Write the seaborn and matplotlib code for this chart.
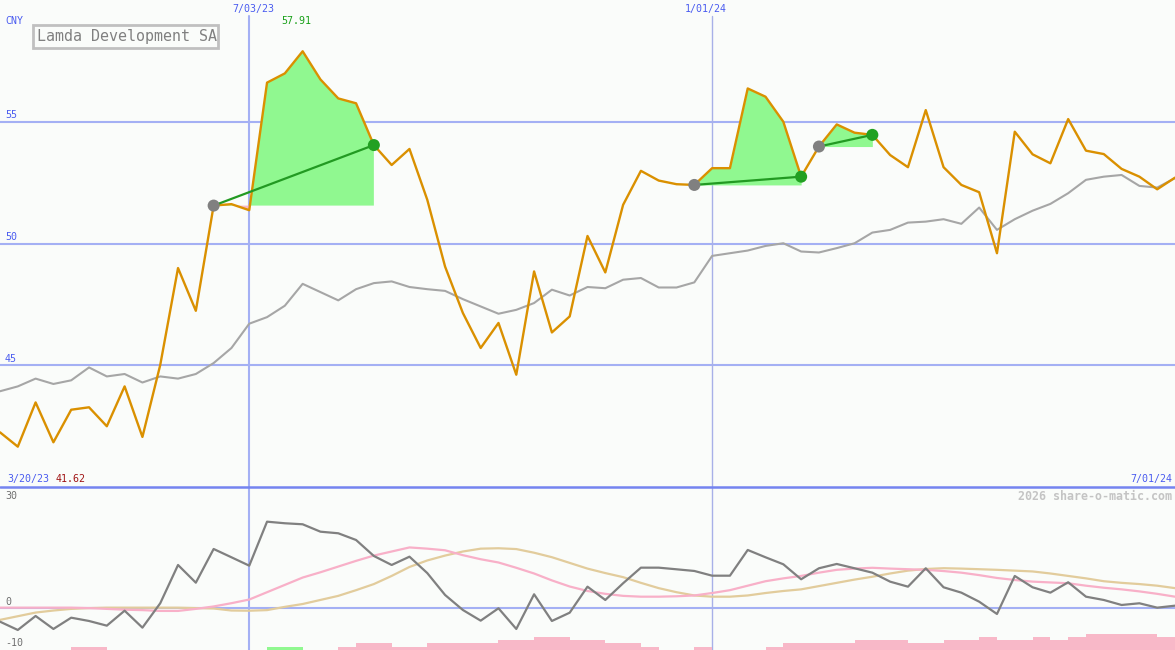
import numpy as np
import pandas as pd
import matplotlib
matplotlib.use("Agg")
import matplotlib.pyplot as plt
from matplotlib.patches import Rectangle
import seaborn as sns

# ---------------- data ----------------
dates = pd.date_range("2023-03-27", periods=67, freq="7D")

price = [42.23, 41.64, 43.46, 41.82, 43.16, 43.26, 42.48, 44.12, 42.04, 45.00,
         48.99, 47.23, 51.56, 51.62, 51.37, 56.62, 57.00, 57.91, 56.75, 55.97,
         55.77, 54.05, 53.23, 53.89, 51.80, 49.05, 47.14, 45.70, 46.73, 44.60,
         48.85, 46.34, 47.00, 50.31, 48.81, 51.59, 52.99, 52.59, 52.44, 52.41,
         53.10, 53.10, 56.38, 56.04, 55.01, 52.75, 53.99, 54.90, 54.56, 54.47,
         53.64, 53.14, 55.49, 53.14, 52.41, 52.11, 49.60, 54.60, 53.67, 53.30,
         55.12, 53.82, 53.68, 53.07, 52.75, 52.23, 52.71]

moving_avg = [43.92, 44.12, 44.44, 44.22, 44.37, 44.90, 44.53, 44.63, 44.28, 44.53,
              44.44, 44.63, 45.08, 45.70, 46.70, 46.97, 47.44, 48.34, 48.00, 47.66,
              48.12, 48.37, 48.44, 48.21, 48.12, 48.05, 47.71, 47.41, 47.11, 47.27,
              47.55, 48.10, 47.86, 48.21, 48.16, 48.51, 48.58, 48.19, 48.19, 48.40,
              49.49, 49.60, 49.71, 49.90, 50.01, 49.67, 49.63, 49.81, 50.01, 50.45,
              50.56, 50.86, 50.90, 51.00, 50.81, 51.48, 50.56, 51.00, 51.35, 51.63,
              52.07, 52.62, 52.75, 52.82, 52.37, 52.30, 52.69]

momentum = [-3.44, -5.48, -2.04, -5.23, -2.46, -3.27, -4.42, -0.74, -4.91, 1.08,
            10.49, 6.14, 14.42, 12.38, 10.32, 21.13, 20.74, 20.49, 18.67, 18.28,
            16.63, 12.70, 10.49, 12.53, 8.50, 3.12, -0.57, -3.19, -0.15, -5.23,
            3.29, -3.27, -1.23, 5.16, 1.89, 6.00, 9.83, 9.83, 9.43, 9.02,
            7.86, 7.86, 14.18, 12.38, 10.66, 6.98, 9.68, 10.74, 9.68, 8.60,
            6.39, 5.16, 9.68, 5.01, 3.69, 1.47, -1.55, 7.79, 5.01, 3.69,
            6.24, 2.70, 1.89, 0.66, 1.08, 0.00, 0.49]

signal_fast = [0.0, 0.0, 0.0, 0.0, 0.0, -0.1, -0.3, -0.5, -0.6, -0.8,
               -0.8, -0.3, 0.3, 1.1, 2.0, 3.8, 5.6, 7.4, 8.7, 10.1,
               11.5, 12.8, 13.8, 14.8, 14.5, 14.1, 12.9, 11.9, 11.1, 9.8,
               8.4, 6.7, 5.2, 4.1, 3.4, 2.9, 2.7, 2.7, 2.8, 3.0,
               3.6, 4.3, 5.4, 6.5, 7.2, 7.8, 8.6, 9.3, 9.6, 9.8,
               9.6, 9.45, 9.3, 9.0, 8.6, 8.0, 7.3, 6.8, 6.4, 6.2,
               6.0, 5.4, 4.9, 4.5, 4.0, 3.4, 2.7]

signal_slow = [-3.0, -2.1, -1.2, -0.7, -0.3, -0.1, 0.0, 0.0, 0.0, 0.0,
               0.0, -0.1, -0.2, -0.7, -0.75, -0.6, 0.2, 0.9, 1.9, 2.9,
               4.3, 5.8, 7.8, 10.0, 11.6, 12.8, 13.8, 14.5, 14.6, 14.4,
               13.5, 12.4, 11.0, 9.6, 8.5, 7.5, 6.1, 4.8, 3.8, 3.0,
               2.7, 2.7, 3.0, 3.6, 4.1, 4.5, 5.3, 6.1, 6.9, 7.6,
               8.4, 9.1, 9.5, 9.7, 9.6, 9.45, 9.3, 9.1, 8.9, 8.4,
               7.8, 7.2, 6.5, 6.1, 5.8, 5.4, 4.8]

# weekly histogram (sign: + green, - pink), one per week interval
hist_vals = [0, 0, 0, 0, -0.8, -0.8, 0, 0, 0, 0,
             0, 0, 0, 0, 0, 0.8, 0.8, 0, 0, -0.8,
             -1.6, -1.6, -0.8, -0.8, -1.6, -1.6, -1.6, -1.6, -2.4, -2.4,
             -3.2, -3.2, -2.4, -2.4, -1.6, -1.6, -0.8, 0, 0, -0.8,
             0, 0, 0, -0.8, -1.6, -1.6, -1.6, -1.6, -2.4, -2.4,
             -2.4, -1.6, -1.6, -2.4, -2.4, -3.2, -2.4, -2.4, -3.2, -2.4,
             -3.2, -4.0, -4.0, -4.0, -4.0, -3.2]

trades = [(12, 21), (39, 45), (46, 49)]   # (buy index, sell index)

price_grid = [45, 50, 55]
price_grid_labels = ["45", "50", "55"]
osc_labels = ["30", "0", "-10"]
event_dates = ["2023-07-03", "2024-01-01"]
event_labels = ["7/03/23", "1/01/24"]
title = "Lamda Development SA"
peak_label = "57.91"
start_label, start_value = "3/20/23", "41.62"
end_label = "7/01/24"
credit = "2026 share-o-matic.com"
currency = "CNY"

# ---------------- style ----------------
sns.set_style("white")
plt.rcParams["font.family"] = ["DejaVu Sans Mono", "DejaVu Sans"]

BG = "#fafcfa"
GRID = "#a4b0f4"
BLUE_TXT = "#4a5cf0"
ORANGE = "#da9000"
MA_GRAY = "#a6a6a6"
GREEN_FILL = "#90f890"
PINK_FILL = "#f8b8c8"

W, H = 1175, 650
fig = plt.figure(figsize=(W / 100, H / 100), dpi=100, facecolor=BG)
split = 487
ax = fig.add_axes([0, (H - split) / H, 1, split / H])
ax2 = fig.add_axes([0, 0, 1, (H - split) / H])

df = pd.DataFrame({"date": dates, "price": price, "ma": moving_avg,
                   "mom": momentum, "fast": signal_fast, "slow": signal_slow})

for a in (ax, ax2):
    a.set_facecolor(BG)
    a.set_xlim(dates[0], dates[-1])
    for s in a.spines.values():
        s.set_visible(False)

ax.set_ylim(39.98, 60.02)
ax2.set_ylim(-10.4, 29.65)

# grid / event lines
for g in price_grid:
    ax.axhline(g, color=GRID, lw=1.5, zorder=0)
ax2.axhline(0, color=GRID, lw=1.5, zorder=0)
ev = pd.to_datetime(event_dates)
ax.axvline(ev[0], ymax=1 - 16 / split, color=GRID, lw=1.5, zorder=0)
ax.axvline(ev[1], ymax=1 - 16 / split, color="#a8b0e8", lw=1.0, zorder=0)
ax2.axvline(ev[0], color=GRID, lw=1.5, zorder=0)
ax2.axvline(ev[1], color="#a8b0e8", lw=1.0, zorder=0)

# trade fills
p = np.array(price)
for b, s in trades:
    xs = dates[b:s + 1]
    ys = p[b:s + 1]
    lvl = p[b]
    ax.fill_between(xs, ys, lvl, where=ys >= lvl, interpolate=True,
                    color=GREEN_FILL, lw=0, zorder=1)
    ax.fill_between(xs, ys, lvl, where=ys <= lvl, interpolate=True,
                    color=PINK_FILL, lw=0, zorder=1)

# lines
sns.lineplot(data=df, x="date", y="ma", ax=ax, color=MA_GRAY, lw=1.5, zorder=2)
sns.lineplot(data=df, x="date", y="price", ax=ax, color=ORANGE, lw=1.7, zorder=3)

for b, s in trades:
    tdf = pd.DataFrame({"date": [dates[b], dates[s]], "v": [price[b], price[s]]})
    sns.lineplot(data=tdf, x="date", y="v", ax=ax, color="#229a22", lw=1.6, zorder=4)
    sns.scatterplot(x=[dates[b]], y=[price[b]], ax=ax, color="#808080", s=75,
                    edgecolor="none", zorder=5)
    sns.scatterplot(x=[dates[s]], y=[price[s]], ax=ax, color="#22a022", s=75,
                    edgecolor="none", zorder=5)

# lower panel
hv = np.array(hist_vals)
cols = [GREEN_FILL if v > 0 else PINK_FILL for v in hv]
ax2.bar(dates[:-1], np.abs(hv), width=7, align="edge", bottom=-10.4,
        color=cols, lw=0, zorder=1)
sns.lineplot(data=df, x="date", y="slow", ax=ax2, color="#e2cc9c", lw=1.6, zorder=2)
sns.lineplot(data=df, x="date", y="fast", ax=ax2, color="#f8b0c8", lw=1.6, zorder=3)
sns.lineplot(data=df, x="date", y="mom", ax=ax2, color="#808080", lw=1.6, zorder=4)

for a in (ax, ax2):
    a.set_xlabel("")
    a.set_ylabel("")
    a.set_xticks([])
    a.set_yticks([])

# divider line
fig.add_artist(plt.Line2D([0, 1], [(H - split) / H] * 2, color="#7484f0", lw=1.8,
                          transform=fig.transFigure))

# ---------------- texts ----------------
def ftext(x, y, s, **kw):
    fig.text(x / W, 1 - y / H, s, ha=kw.pop("ha", "center"), va="center", **kw)

small = 7.2
ftext(5, 21, currency, ha="left", color=BLUE_TXT, fontsize=small)
for lbl, yv in zip(price_grid_labels, [358.5, 237, 115.5]):
    ftext(5, yv, lbl, ha="left", color=BLUE_TXT, fontsize=small)
ftext(253, 8.7, event_labels[0], color=BLUE_TXT, fontsize=small)
ftext(705.5, 8.7, event_labels[1], color=BLUE_TXT, fontsize=small)
ftext(296, 21, peak_label, color="#18a018", fontsize=small)
ftext(7, 479, start_label, ha="left", color=BLUE_TXT, fontsize=small)
ftext(55.5, 479, start_value, ha="left", color="#a01414", fontsize=small)
ftext(1172, 479, end_label, ha="right", color=BLUE_TXT, fontsize=small)
ftext(1172, 496, credit, ha="right", color="#c4c4c4", fontsize=8.4,
      fontweight="bold")
ftext(5, 496, osc_labels[0], ha="left", color="#707070", fontsize=small)
ftext(5, 601.7, osc_labels[1], ha="left", color="#707070", fontsize=small)
ftext(5, 642.5, osc_labels[2], ha="left", color="#707070", fontsize=small)

fig.add_artist(Rectangle((33 / W, 1 - 48 / H), 185 / W, 23 / H,
                         transform=fig.transFigure, fill=False,
                         ec="#c0c0c0", lw=2))
ftext(127, 36.5, title, color="#808080", fontsize=10.8)

fig.savefig("out.png", dpi=100, facecolor=BG)
